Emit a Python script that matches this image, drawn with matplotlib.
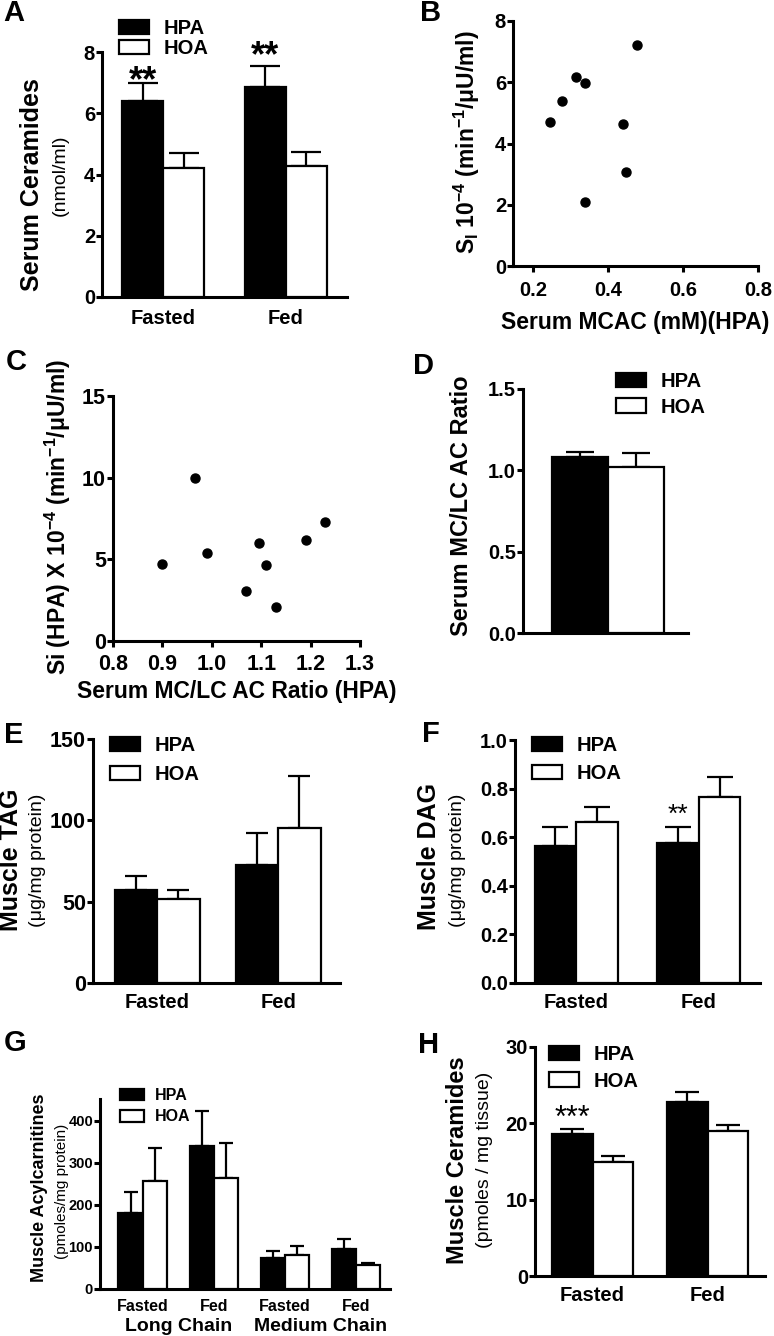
import matplotlib
matplotlib.use("Agg")
import matplotlib.pyplot as plt
from matplotlib.patches import Patch
import numpy as np

plt.rcParams['font.family'] = ['Liberation Sans', 'DejaVu Sans']
plt.rcParams['font.weight'] = 'bold'
plt.rcParams['mathtext.fontset'] = 'custom'
plt.rcParams['mathtext.rm'] = 'Liberation Sans:bold'
plt.rcParams['mathtext.it'] = 'Liberation Sans:bold'
plt.rcParams['mathtext.bf'] = 'Liberation Sans:bold'
plt.rcParams['mathtext.default'] = 'rm'

# ---------------- data ----------------
groups = ['HPA', 'HOA']
A_cats = ['Fasted', 'Fed']
A_hpa = [6.4, 6.85]
A_hpa_err = [0.6, 0.7]
A_hoa = [4.22, 4.27]
A_hoa_err = [0.48, 0.45]

B_x = [0.245, 0.277, 0.316, 0.339, 0.339, 0.439, 0.447, 0.477]
B_y = [4.70, 5.39, 6.16, 5.99, 2.10, 4.64, 3.06, 7.22]

C_x = [0.90, 0.965, 0.99, 1.07, 1.095, 1.11, 1.13, 1.19, 1.23]
C_y = [4.73, 10.0, 5.4, 3.04, 6.03, 4.67, 2.09, 6.2, 7.27]

D_vals = [1.08, 1.02]
D_err = [0.03, 0.087]

E_cats = ['Fasted', 'Fed']
E_hpa = [57.2, 72.5]
E_hpa_err = [8.8, 19.7]
E_hoa = [51.8, 95.5]
E_hoa_err = [5.4, 31.8]

F_cats = ['Fasted', 'Fed']
F_hpa = [0.564, 0.575]
F_hpa_err = [0.079, 0.068]
F_hoa = [0.661, 0.767]
F_hoa_err = [0.062, 0.082]

G_cats = ['Fasted', 'Fed', 'Fasted', 'Fed']
G_super = ['Long Chain', 'Medium Chain']
G_hpa = [180, 340, 73, 95]
G_hpa_err = [50, 84, 17, 25]
G_hoa = [258, 265, 81, 56]
G_hoa_err = [77, 82, 22, 7]

H_cats = ['Fasted', 'Fed']
H_hpa = [18.6, 22.8]
H_hpa_err = [0.6, 1.3]
H_hoa = [15.0, 19.0]
H_hoa_err = [0.7, 0.8]

# ---------------- figure ----------------
W, H = 774, 1336
fig = plt.figure(figsize=(W / 100, H / 100), dpi=100)

def px_axes(l, t, r, b):
    return fig.add_axes([l / W, 1 - b / H, (r - l) / W, (b - t) / H])

def ftext(x, y, s, **kw):
    fig.text(x / W, 1 - y / H, s, **kw)

SPW = 2.2
TFS = 14.5
def style(ax, tickfs=TFS, xticks=True):
    for s in ['top', 'right']:
        ax.spines[s].set_visible(False)
    for s in ['left', 'bottom']:
        ax.spines[s].set_linewidth(SPW)
    ax.tick_params(axis='y', direction='out', length=4, width=SPW, labelsize=tickfs, pad=1)
    if xticks:
        ax.tick_params(axis='x', direction='out', length=4, width=SPW, labelsize=tickfs, pad=5)
    for lab in ax.get_xticklabels() + ax.get_yticklabels():
        lab.set_fontweight('bold')

def bars(ax, x, vals, errs, color, width, capsize):
    ax.bar(x, vals, width=width, color=color, edgecolor='black', linewidth=1.6, zorder=3)
    ax.errorbar(x, vals, yerr=[np.zeros(len(vals)), errs], fmt='none', ecolor='black',
                elinewidth=1.6, capsize=capsize, capthick=1.6, zorder=2)

def legend(ax, x, y, fs, spacing):
    handles = [Patch(facecolor='black', edgecolor='black', linewidth=1.6),
               Patch(facecolor='white', edgecolor='black', linewidth=1.6)]
    leg = ax.legend(handles, groups, loc='upper left',
                    bbox_to_anchor=(x / W, 1 - y / H), bbox_transform=fig.transFigure,
                    frameon=False, borderpad=0, borderaxespad=0, handlelength=1.5,
                    handleheight=0.72, handletextpad=0.7, labelspacing=spacing,
                    prop={'size': fs, 'weight': 'bold'})
    return leg

# ---------------- A ----------------
ax = px_axes(102, 52, 347, 297)
x = np.arange(2)
w = 0.335
bars(ax, x - w / 2, A_hpa, A_hpa_err, 'black', w, 11)
bars(ax, x + w / 2, A_hoa, A_hoa_err, 'white', w, 11)
ax.set_xlim(-0.5, 1.5)
ax.set_ylim(0, 8)
ax.set_yticks([0, 2, 4, 6, 8])
ax.set_xticks(x, A_cats)
style(ax)
ax.tick_params(axis='x', length=0, pad=9, labelsize=14.5)
legend(ax, 119, 19, 14.5, 0.05)
for i, v in enumerate([7.02, 7.85]):
    ax.text(x[i] - w / 2, v, '**', ha='center', va='center', fontsize=26,
            fontweight='bold', clip_on=False)
ftext(32, 185, 'Serum Ceramides', rotation=90, ha='center', va='center', fontsize=18, fontweight='bold')
ftext(60, 175, '(nmol/ml)', rotation=90, ha='center', va='center', fontsize=14, fontweight='normal')
ftext(3, 13, 'A', ha='left', va='center', fontsize=21, fontweight='bold')

# ---------------- B ----------------
ax = px_axes(513, 21, 758, 266)
ax.plot(B_x, B_y, 'o', color='black', markersize=6.5, clip_on=False, zorder=3)
ax.set_xlim(0.147, 0.8)
ax.set_ylim(0, 8)
ax.set_xticks([0.2, 0.4, 0.6, 0.8])
ax.set_xticklabels(['0.2', '0.4', '0.6', '0.8'])
ax.set_yticks([0, 2, 4, 6, 8])
style(ax)
ax.tick_params(axis='x', pad=7)
ax.set_xlabel('Serum MCAC (mM)(HPA)', fontsize=16.5, fontweight='bold', labelpad=8)
ftext(467, 142, 'S$_{\\mathregular{I}}$ 10$^{-4}$ (min$^{-1}$/μU/ml)', rotation=90,
      ha='center', va='center', fontsize=16.5, fontweight='bold')
ftext(420, 13, 'B', ha='left', va='center', fontsize=21, fontweight='bold')

# ---------------- C ----------------
ax = px_axes(113, 396, 360, 641)
ax.plot(C_x, C_y, 'o', color='black', markersize=6.5, clip_on=False, zorder=3)
ax.set_xlim(0.8, 1.3)
ax.set_ylim(0, 15)
ax.set_xticks([0.8, 0.9, 1.0, 1.1, 1.2, 1.3])
ax.set_xticklabels(['0.8', '0.9', '1.0', '1.1', '1.2', '1.3'])
ax.set_yticks([0, 5, 10, 15])
style(ax, tickfs=15.5)
ax.set_xlabel('Serum MC/LC AC Ratio (HPA)', fontsize=16.5, fontweight='bold', labelpad=4)
ftext(58, 517, 'Si (HPA) X 10$^{-4}$ (min$^{-1}$/μU/ml)', rotation=90,
      ha='center', va='center', fontsize=16.5, fontweight='bold')
ftext(6, 362, 'C', ha='left', va='center', fontsize=21, fontweight='bold')

# ---------------- D ----------------
ax = px_axes(523, 389, 688, 633)
bars(ax, [-0.5], [D_vals[0]], [D_err[0]], 'black', 1.0, 10)
bars(ax, [0.5], [D_vals[1]], [D_err[1]], 'white', 1.0, 10)
ax.set_xlim(-1.52, 1.43)
ax.set_ylim(0, 1.5)
ax.set_yticks([0, 0.5, 1.0, 1.5])
ax.set_yticklabels(['0.0', '0.5', '1.0', '1.5'])
ax.set_xticks([])
style(ax, xticks=False)
legend(ax, 616, 372, 14.5, 0.33)
ftext(462, 506, 'Serum MC/LC AC Ratio', rotation=90, ha='center', va='center',
      fontsize=17, fontweight='bold')
ftext(413, 366, 'D', ha='left', va='center', fontsize=21, fontweight='bold')

# ---------------- E ----------------
ax = px_axes(93, 739, 340, 983)
x = np.arange(2)
w = 0.35
bars(ax, x - w / 2, E_hpa, E_hpa_err, 'black', w, 8)
bars(ax, x + w / 2, E_hoa, E_hoa_err, 'white', w, 8)
ax.set_xlim(-0.53, 1.51)
ax.set_ylim(0, 150)
ax.set_yticks([0, 50, 100, 150])
ax.set_xticks(x, E_cats)
style(ax, tickfs=15.5)
ax.tick_params(axis='x', length=0, pad=7, labelsize=14.5)
legend(ax, 110, 736, 14.5, 0.5)
ftext(11, 860, 'Muscle TAG', rotation=90, ha='center', va='center', fontsize=18, fontweight='bold')
ftext(38, 860, '(μg/mg protein)', rotation=90, ha='center', va='center', fontsize=14, fontweight='normal')
ftext(4, 735, 'E', ha='left', va='center', fontsize=21, fontweight='bold')

# ---------------- F ----------------
ax = px_axes(515, 740, 760, 983)
x = np.arange(2)
w = 0.34
bars(ax, x - w / 2, F_hpa, F_hpa_err, 'black', w, 9.5)
bars(ax, x + w / 2, F_hoa, F_hoa_err, 'white', w, 9.5)
ax.set_xlim(-0.5, 1.5)
ax.set_ylim(0, 1.0)
ax.set_yticks([0, 0.2, 0.4, 0.6, 0.8, 1.0])
ax.set_yticklabels(['0.0', '0.2', '0.4', '0.6', '0.8', '1.0'])
ax.set_xticks(x, F_cats)
style(ax)
ax.tick_params(axis='x', length=0, pad=7, labelsize=14.5)
legend(ax, 532, 736, 14.5, 0.45)
ax.text(x[1] - w / 2, 0.69, '**', ha='center', va='center', fontsize=19, fontweight='normal')
ftext(429, 856, 'Muscle DAG', rotation=90, ha='center', va='center', fontsize=18, fontweight='bold')
ftext(458, 860, '(μg/mg protein)', rotation=90, ha='center', va='center', fontsize=14, fontweight='normal')
ftext(422, 734, 'F', ha='left', va='center', fontsize=21, fontweight='bold')

# ---------------- G ----------------
ax = px_axes(100, 1099, 390, 1289)
x = np.arange(4)
w = 0.34
bars(ax, x - w / 2, G_hpa, G_hpa_err, 'black', w, 5)
bars(ax, x + w / 2, G_hoa, G_hoa_err, 'white', w, 5)
ax.set_xlim(-0.6, 3.48)
ax.set_ylim(0, 452)
ax.set_yticks([0, 100, 200, 300, 400])
ax.set_xticks(x, G_cats)
style(ax, tickfs=10.5)
ax.tick_params(axis='x', length=0, pad=7, labelsize=11.5)
legend(ax, 120, 1088, 11.5, 0.4)
for i, lab in enumerate(G_super):
    ax.text(2 * i + 0.5, -0.195, lab, transform=ax.get_xaxis_transform(), ha='center',
            va='center', fontsize=14, fontweight='bold')
ftext(40, 1188, 'Muscle Acylcarnitines', rotation=90, ha='center', va='center', fontsize=13, fontweight='bold')
ftext(62, 1191, '(pmoles/mg protein)', rotation=90, ha='center', va='center', fontsize=11, fontweight='normal')
ftext(4, 1043, 'G', ha='left', va='center', fontsize=21, fontweight='bold')

# ---------------- H ----------------
ax = px_axes(535, 1047, 765, 1276)
x = np.arange(2)
w = 0.35
bars(ax, x - w / 2, H_hpa, H_hpa_err, 'black', w, 8.5)
bars(ax, x + w / 2, H_hoa, H_hoa_err, 'white', w, 8.5)
ax.set_xlim(-0.5, 1.5)
ax.set_ylim(0, 30)
ax.set_yticks([0, 10, 20, 30])
ax.set_xticks(x, H_cats)
style(ax)
ax.tick_params(axis='x', length=0, pad=7, labelsize=14.5)
legend(ax, 549, 1045, 14.5, 0.38)
ax.text(x[0] - w / 2, 20.6, '***', ha='center', va='center', fontsize=22, fontweight='normal')
ftext(457, 1160, 'Muscle Ceramides', rotation=90, ha='center', va='center', fontsize=17, fontweight='bold')
ftext(484, 1160, '(pmoles / mg tissue)', rotation=90, ha='center', va='center', fontsize=14, fontweight='normal')
ftext(418, 1045, 'H', ha='left', va='center', fontsize=21, fontweight='bold')

fig.savefig('out.png', dpi=100)
